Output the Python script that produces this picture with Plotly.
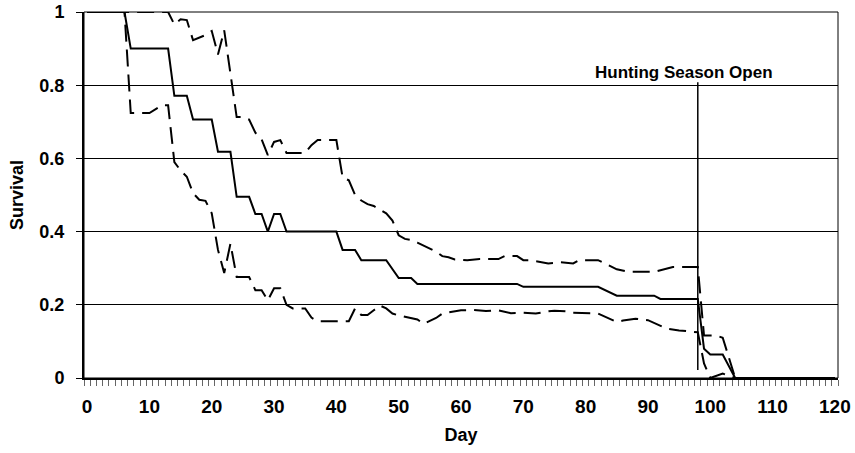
import plotly.graph_objects as go

# ---- data (vertices of each curve: day, survival) ----
surv_day = [0, 6, 7, 13, 14, 16, 17, 20, 21, 23, 24, 26, 27, 28, 29, 30, 31, 32, 40, 41, 43, 44, 48, 49, 50,
            52, 53, 69, 70, 82, 85, 91, 92, 98, 99, 100, 102, 104, 120]
surv_val = [1, 1, 0.90, 0.90, 0.771, 0.771, 0.706, 0.706, 0.618, 0.618, 0.495, 0.495, 0.448, 0.448, 0.40,
            0.448, 0.448, 0.40, 0.40, 0.35, 0.35, 0.322, 0.322, 0.297, 0.273, 0.273, 0.257, 0.257, 0.249,
            0.249, 0.225, 0.225, 0.216, 0.216, 0.08, 0.064, 0.064, 0, 0]

upper_day = [0, 13, 14, 15, 16, 17, 19, 20, 21, 22, 24, 25, 26, 27, 28, 29, 30, 31, 32, 35, 36, 37, 40, 41,
             42, 43, 44, 45, 46, 47, 48, 49, 50, 51, 52, 53, 54, 55, 56, 57, 58, 59, 61, 63, 66, 67, 69, 70,
             71, 74, 76, 78, 79, 82, 83, 85, 87, 91, 94, 98, 99, 101, 102, 104, 120]
upper_val = [1, 1, 0.966, 0.98, 0.978, 0.923, 0.937, 0.948, 0.884, 0.95, 0.713, 0.713, 0.706, 0.67, 0.652,
             0.609, 0.645, 0.65, 0.615, 0.615, 0.636, 0.65, 0.65, 0.548, 0.54, 0.50, 0.485, 0.475, 0.47,
             0.46, 0.45, 0.43, 0.39, 0.38, 0.377, 0.37, 0.362, 0.355, 0.345, 0.333, 0.33, 0.324, 0.322,
             0.325, 0.325, 0.333, 0.333, 0.322, 0.322, 0.313, 0.316, 0.313, 0.322, 0.322, 0.313, 0.297,
             0.29, 0.29, 0.303, 0.303, 0.116, 0.116, 0.11, 0, 0]

lower_day = [0, 6, 7, 10, 12, 13, 14, 15, 16, 17, 18, 19, 20, 21, 22, 23, 24, 26, 27, 28, 29, 30, 31, 32,
             33, 35, 36, 37, 42, 43, 44, 45, 46, 47, 48, 49, 50, 52, 53, 54, 56, 57, 60, 62, 64, 66, 68,
             70, 72, 74, 75, 77, 78, 81, 82, 85, 86, 88, 90, 93, 95, 98, 99, 100, 102, 104, 120]
lower_val = [1, 1, 0.724, 0.724, 0.745, 0.745, 0.59, 0.567, 0.55, 0.505, 0.487, 0.484, 0.45, 0.35, 0.287,
             0.367, 0.276, 0.276, 0.24, 0.24, 0.212, 0.245, 0.245, 0.20, 0.19, 0.19, 0.165, 0.155, 0.155,
             0.19, 0.172, 0.172, 0.185, 0.198, 0.19, 0.176, 0.171, 0.164, 0.16, 0.148, 0.164, 0.176,
             0.185, 0.186, 0.183, 0.185, 0.177, 0.178, 0.176, 0.182, 0.184, 0.182, 0.178, 0.177, 0.176,
             0.153, 0.157, 0.162, 0.158, 0.135, 0.13, 0.125, 0.04, 0.0, 0.012, 0, 0]

x_ticks = list(range(0, 121, 10))
y_ticks = [0, 0.2, 0.4, 0.6, 0.8, 1]
y_labels = ["0", "0.2", "0.4", "0.6", "0.8", "1"]

season_day = 98
season_label = "Hunting Season Open"

FONT = "Liberation Sans, Arial, sans-serif"

fig = go.Figure()
dash_style = "17px,8px"
fig.add_trace(go.Scatter(x=upper_day, y=upper_val, mode="lines",
                         line=dict(color="black", width=2, dash=dash_style), showlegend=False))
fig.add_trace(go.Scatter(x=lower_day, y=lower_val, mode="lines",
                         line=dict(color="black", width=2, dash=dash_style), showlegend=False))
fig.add_trace(go.Scatter(x=surv_day, y=surv_val, mode="lines",
                         line=dict(color="black", width=2), showlegend=False))

# plot border (top / right)
fig.add_shape(type="rect", xref="paper", yref="paper", x0=0, x1=1, y0=0, y1=1,
              line=dict(color="black", width=1), layer="above")
# hunting season line
fig.add_shape(type="line", xref="x", yref="y", x0=season_day, x1=season_day, y0=0.022, y1=0.808,
              line=dict(color="black", width=1.5))
fig.add_annotation(x=95.8, y=0.836, xref="x", yref="y", text=season_label, showarrow=False,
                   font=dict(family=FONT, size=17, color="black", weight="bold"),
                   xanchor="center", yanchor="middle")

fig.update_layout(
    width=855, height=453,
    margin=dict(l=84, r=17, t=12, b=75, autoexpand=False),
    paper_bgcolor="white", plot_bgcolor="white",
    font=dict(family=FONT, color="black", weight="bold"),
    xaxis=dict(
        range=[-0.5, 120.5], tickmode="array", tickvals=x_ticks, ticktext=[str(v) for v in x_ticks],
        ticks="", showgrid=False, zeroline=False, automargin=False,
        showline=True, linecolor="black", linewidth=2,
        tickfont=dict(family=FONT, size=19, color="black", weight="bold"),
        ticklabelstandoff=10,
        minor=dict(tickmode="linear", tick0=-0.5, dtick=1, ticks="outside", ticklen=6,
                   tickcolor="#666", tickwidth=1, showgrid=False),
        title=dict(text="Day", font=dict(family=FONT, size=18, color="black", weight="bold"), standoff=13),
    ),
    yaxis=dict(
        range=[0, 1], tickmode="array", tickvals=y_ticks, ticktext=y_labels,
        ticks="outside", ticklen=6, tickcolor="black", tickwidth=1,
        showgrid=True, gridcolor="black", gridwidth=1, zeroline=False, automargin=False,
        showline=True, linecolor="black", linewidth=2,
        tickfont=dict(family=FONT, size=18, color="black", weight="bold"),
        ticklabelstandoff=8,
        title=dict(text="Survival", font=dict(family=FONT, size=18, color="black", weight="bold"), standoff=11),
    ),
)

fig.write_html("out.html", config={"displayModeBar": False},
               post_script="document.body.style.margin='0';")
